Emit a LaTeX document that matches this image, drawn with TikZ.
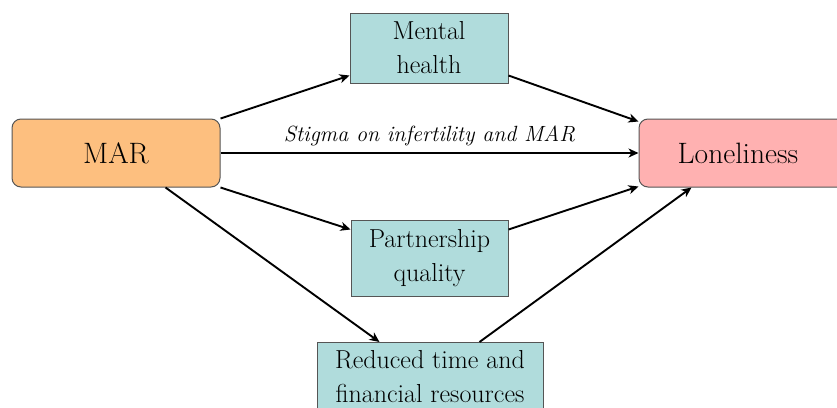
\documentclass[tikz,border=0pt]{standalone}
\usetikzlibrary{arrows.meta}
\definecolor{orangefill}{HTML}{FDBF7F}
\definecolor{pinkfill}{HTML}{FFB1B1}
\definecolor{tealfill}{HTML}{B0DCDC}
\definecolor{edgegray}{HTML}{555555}
\tikzset{
  mainbox/.style={draw=edgegray, line width=1pt, rounded corners=9pt, inner sep=0pt, font=\fontsize{29.5}{32}\selectfont},
  medbox/.style={draw=edgegray, line width=1pt, inner sep=0pt, align=center, font=\fontsize{26}{34}\selectfont},
  conn/.style={line width=1.9pt, -{Stealth[length=10pt,width=9pt,inset=3pt]}},
}
\begin{document}
\begin{tikzpicture}[x=1pt,y=-1pt]
\useasboundingbox (0,0) rectangle (837,407);
\clip (0,0) rectangle (837,407);
\node[mainbox, fill=orangefill, minimum width=208pt, minimum height=68pt] (mar) at (116,153) {MAR};
\node[mainbox, fill=pinkfill, minimum width=210pt, minimum height=68pt] (lon) at (744,153) {\hspace*{-12pt}Loneliness};
\node[medbox, fill=tealfill, minimum width=158pt, minimum height=70pt] (men) at (429,48) {Mental\\health};
\node[medbox, fill=tealfill, minimum width=157pt, minimum height=76pt] (par) at (429.5,258) {Partnership\\quality};
\node[medbox, fill=tealfill, minimum width=226pt, minimum height=68pt, anchor=north] (red) at (430,342) {Reduced time and\\financial resources};
\draw[conn] (mar.north east) -- ([yshift=8pt]men.south west);
\draw[conn] ([yshift=8pt]men.south east) -- ([yshift=-3pt]lon.north west);
\draw[conn] (mar.east) -- node[above=3pt, font=\fontsize{22}{24}\selectfont\itshape] {Stigma on infertility and MAR} (lon.west);
\draw[conn] (mar.south east) -- ([yshift=-10pt]par.north west);
\draw[conn] ([yshift=-10pt]par.north east) -- ([yshift=1pt]lon.south west);
\draw[conn] ([xshift=-55pt]mar.south east) -- ([xshift=63pt]red.north west);
\draw[conn] ([xshift=163pt]red.north west) -- ([xshift=53pt]lon.south west);
\end{tikzpicture}
\end{document}
